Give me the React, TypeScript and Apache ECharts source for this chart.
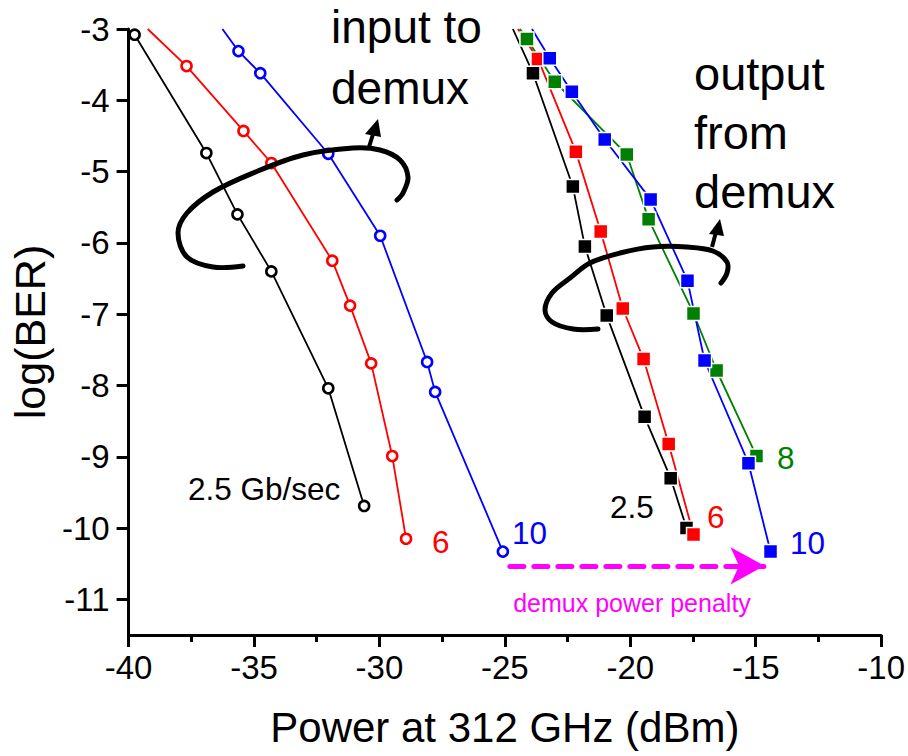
import React, { useEffect, useRef } from "react";
import * as echarts from "echarts";

// ---------- data ----------
const inBlackX = [-39.76, -36.9, -35.66, -34.31, -32.04, -30.61];
const inBlackY = [-3.08, -4.74, -5.6, -6.4, -8.04, -9.69];

const inRedEdge = [-39.24, -3.0];
const inRedX = [-37.69, -35.42, -34.31, -31.88, -31.17, -30.33, -29.49, -28.94];
const inRedY = [-3.52, -4.43, -4.88, -6.25, -6.88, -7.69, -8.99, -10.15];

const inBlueEdge = [-36.26, -3.0];
const inBlueX = [-35.62, -34.75, -32.04, -29.97, -28.1, -27.78, -25.08];
const inBlueY = [-3.31, -3.62, -4.75, -5.9, -7.67, -8.09, -10.33];

const outBlackEdge = [-24.68, -3.0];
const outBlackX = [-23.88, -22.29, -21.81, -20.94, -19.43, -18.39, -17.76];
const outBlackY = [-3.62, -5.21, -6.05, -7.02, -8.44, -9.3, -10.0];

const outRedEdge = [-24.48, -3.0];
const outRedX = [-23.68, -22.17, -21.18, -20.3, -19.47, -18.47, -17.48];
const outRedY = [-3.42, -4.72, -5.84, -6.92, -7.63, -8.82, -10.09];

const outGreenEdge = [-24.4, -3.0];
const outGreenX = [-24.12, -23.01, -20.14, -19.27, -17.48, -16.56, -14.97];
const outGreenY = [-3.14, -3.74, -4.76, -5.67, -6.99, -7.79, -8.99];

const outBlueEdge = [-23.92, -3.0];
const outBlueX = [-23.21, -22.33, -21.02, -19.19, -17.72, -17.04, -15.29, -14.41];
const outBlueY = [-3.41, -3.88, -4.55, -5.39, -6.53, -7.65, -9.09, -10.33];

const penaltyStart = [-24.8, -10.53];
const penaltyEnd = [-14.65, -10.53];

const xTicks = { min: -40, max: -10, interval: 5 };
const yRange = { min: -11.5, max: -3 };
const yTickValues = [-11, -10, -9, -8, -7, -6, -5, -4, -3];

// ---------- helpers ----------
const FONT = "'Liberation Sans', Arial, sans-serif";

function build(xs: number[], ys: number[], edge?: number[]) {
  const pts: any[] = xs.map((x, i) => [x, ys[i]]);
  if (edge) pts.unshift({ value: edge, symbol: "none" });
  return pts;
}

function inputSeries(name: string, color: string, data: any[]) {
  return {
    name,
    type: "line",
    data,
    symbol: "circle",
    symbolSize: 10,
    color,
    lineStyle: { color, width: 1.8 },
    itemStyle: { color: "#ffffff", borderColor: color, borderWidth: 2.6 },
    clip: true,
    z: 3,
  };
}

function outputSeries(name: string, color: string, data: any[]) {
  return {
    name,
    type: "line",
    data,
    symbol: "rect",
    symbolSize: 14,
    color,
    lineStyle: { color, width: 1.8 },
    itemStyle: { color, borderColor: "#ffffff", borderWidth: 1.5 },
    clip: true,
    z: 3,
  };
}

function label(text: string, x: number, y: number, fill: string, size: number, align = "left") {
  return {
    type: "text",
    x,
    y,
    z: 20,
    style: {
      text,
      fill,
      font: `${size}px ${FONT}`,
      textAlign: align,
      textVerticalAlign: "middle",
    },
  };
}

export default function App() {
  const ref = useRef<HTMLDivElement>(null);

  useEffect(() => {
    if (!ref.current) return;
    const chart = echarts.init(ref.current, null, { renderer: "svg" });

    const curveStyle = { stroke: "#000", lineWidth: 5, fill: null, lineCap: "round", lineJoin: "round" };

    const option: any = {
      animation: false,
      backgroundColor: "#ffffff",
      grid: { left: 128, right: 26, top: 29, bottom: 121 },
      xAxis: {
        type: "value",
        min: xTicks.min,
        max: xTicks.max,
        interval: xTicks.interval,
        name: "Power at 312 GHz (dBm)",
        nameLocation: "middle",
        nameGap: 71,
        nameTextStyle: { fontSize: 42, color: "#000", fontFamily: FONT },
        axisLine: { lineStyle: { color: "#000", width: 3 } },
        axisTick: { length: 12, lineStyle: { color: "#000", width: 3 } },
        minorTick: { show: true, splitNumber: 2, length: 7, lineStyle: { color: "#000", width: 3 } },
        axisLabel: { fontSize: 33, color: "#000", fontFamily: FONT, margin: 16 },
        splitLine: { show: false },
      },
      yAxis: {
        type: "value",
        min: yRange.min,
        max: yRange.max,
        name: "log(BER)",
        nameLocation: "middle",
        nameGap: 74,
        nameRotate: 90,
        nameTextStyle: { fontSize: 43, color: "#000", fontFamily: FONT },
        axisLine: { lineStyle: { color: "#000", width: 3 } },
        axisTick: { length: 12, customValues: yTickValues, lineStyle: { color: "#000", width: 3 } },
        axisLabel: {
          fontSize: 33,
          color: "#000",
          fontFamily: FONT,
          margin: 19,
          customValues: yTickValues,
        },
        splitLine: { show: false },
      },
      series: [
        inputSeries("in 2.5", "#000000", build(inBlackX, inBlackY)),
        inputSeries("in 6", "#ff0000", build(inRedX, inRedY, inRedEdge)),
        inputSeries("in 10", "#0000ff", build(inBlueX, inBlueY, inBlueEdge)),
        outputSeries("out 2.5", "#000000", build(outBlackX, outBlackY, outBlackEdge)),
        outputSeries("out 6", "#ff0000", build(outRedX, outRedY, outRedEdge)),
        outputSeries("out 8", "#008000", build(outGreenX, outGreenY, outGreenEdge)),
        outputSeries("out 10", "#0000ff", build(outBlueX, outBlueY, outBlueEdge)),
        {
          name: "penalty",
          type: "line",
          data: [],
          z: 5,
          markLine: {
            silent: true,
            animation: false,
            label: { show: false },
            lineStyle: { color: "#ff00ff", width: 5, type: [14, 10], cap: "round" },
            emphasis: { disabled: true },
            data: [
              [
                { coord: penaltyStart, symbol: "none" },
                { coord: penaltyEnd, symbol: "arrow", symbolSize: [28, 34] },
              ],
            ],
          },
        },
      ],
      graphic: [
        // input curl
        {
          type: "polyline",
          z: 10,
          shape: {
            points: [
              [243, 266], [213, 267], [187, 257], [178, 233], [187, 213], [213, 192],
              [253, 173], [303, 155], [353, 148], [380, 150], [400, 160], [408, 177],
              [403, 193], [397, 200],
            ],
            smooth: 0.35,
          },
          style: curveStyle,
        },
        { type: "line", z: 10, shape: { x1: 369, y1: 147, x2: 374, y2: 131 }, style: { stroke: "#000", lineWidth: 4 } },
        { type: "polygon", z: 10, shape: { points: [[378, 119], [365, 134], [381, 137]] }, style: { fill: "#000" } },
        // output curl
        {
          type: "polyline",
          z: 10,
          shape: {
            points: [
              [598, 329], [573, 329], [552, 322], [545, 310], [552, 293], [570, 278],
              [590, 263], [620, 253], [653, 247], [687, 247], [713, 251], [727, 262],
              [727, 273], [721, 283],
            ],
            smooth: 0.35,
          },
          style: curveStyle,
        },
        { type: "line", z: 10, shape: { x1: 712, y1: 247, x2: 716, y2: 232 }, style: { stroke: "#000", lineWidth: 4 } },
        { type: "polygon", z: 10, shape: { points: [[720, 219], [709, 234], [724, 236]] }, style: { fill: "#000" } },
        // annotation texts
        label("input to", 331, 27, "#000", 46),
        label("demux", 331, 88, "#000", 46),
        label("output", 694, 73, "#000", 47),
        label("from", 694, 132, "#000", 47),
        label("demux", 694, 191, "#000", 47),
        label("2.5 Gb/sec", 188, 489, "#000", 31.5),
        label("6", 432, 542, "#ff0000", 31.5),
        label("10", 512, 533, "#0000ff", 31.5),
        label("2.5", 610, 507, "#000", 31.5),
        label("6", 707, 517, "#ff0000", 31.5),
        label("8", 777, 458, "#008000", 31.5),
        label("10", 790, 543, "#0000ff", 31.5),
        label("demux power penalty", 632, 603, "#ff00ff", 25, "center"),
      ],
    };

    chart.setOption(option);
    return () => chart.dispose();
  }, []);

  return (
    <div
      ref={ref}
      style={{ position: "fixed", left: 0, top: 0, width: 908, height: 756, background: "#fff" }}
    />
  );
}
